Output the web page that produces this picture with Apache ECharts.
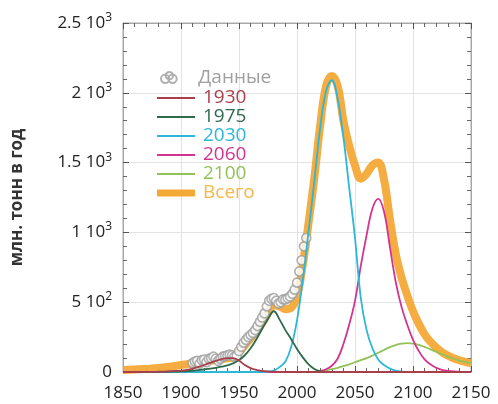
<!DOCTYPE html>
<html>
<head>
<meta charset="utf-8">
<script src="https://cdn.jsdelivr.net/npm/echarts@6/dist/echarts.min.js"></script>
<style>
    html, body { margin: 0; padding: 0; background: #fff; }
    #chart { width: 498px; height: 404px; }
</style>
</head>
<body>
<div id="chart"></div>
<script>
    // годы для кривых (шаг 5 лет)
    const years = [1850,1855,1860,1865,1870,1875,1880,1885,1890,1895,
        1900,1905,1910,1915,1920,1925,1930,1935,1940,1945,
        1950,1955,1960,1965,1970,1975,1980,1985,1990,1995,
        2000,2005,2010,2015,2020,2025,2030,2035,2040,2045,
        2050,2055,2060,2065,2070,2075,2080,2085,2090,2095,
        2100,2105,2110,2115,2120,2125,2130,2135,2140,2145,2150];

    const curve1930 = [0,0,0,0,1,1,2,3,5,7,
        10,16,25,37,50,65,80,92,100,100,
        82,50,28,15,8,4,2,1,0,0,
        0,0,0,0,0,0,0,0,0,0,
        0,0,0,0,0,0,0,0,0,0,
        0,0,0,0,0,0,0,0,0,0,0];

    const curve1975 = [0,0,0,0,0,0,1,1,2,3,
        4,6,9,13,18,24,30,38,48,62,
        85,120,170,235,310,380,435,375,300,235,
        165,105,55,22,6,1,0,0,0,0,
        0,0,0,0,0,0,0,0,0,0,
        0,0,0,0,0,0,0,0,0,0,0];

    const curve2030 = [0,0,0,0,0,0,0,0,0,0,
        0,0,0,0,0,0,0,0,0,0,
        0,0,0,0,0,3,10,35,75,180,
        370,660,1010,1370,1750,2010,2090,1960,1680,1320,
        960,530,300,170,90,50,25,10,3,0,
        0,0,0,0,0,0,0,0,0,0,0];

    const curve2060 = [0,0,0,0,0,0,0,0,0,0,
        0,0,0,0,0,0,0,0,0,0,
        0,0,0,0,0,0,0,0,0,0,
        0,0,0,0,8,20,45,95,200,340,
        510,760,980,1170,1240,1150,900,650,470,340,
        230,150,90,55,30,15,8,4,2,0,0];

    const curve2100 = [0,0,0,0,0,0,0,0,0,0,
        0,0,0,0,0,0,0,0,0,0,
        0,0,0,0,0,0,0,0,0,0,
        0,0,0,2,6,12,20,30,42,55,
        70,85,100,118,138,158,178,193,203,207,
        204,195,180,162,145,127,110,95,82,72,63];

    const curveTotal = [15,16,18,20,22,25,28,32,37,43,
        50,56,62,68,74,80,86,92,98,105,
        140,190,240,290,350,420,480,470,450,460,
        540,770,1070,1395,1765,2045,2120,2050,1800,1620,
        1480,1385,1420,1480,1500,1380,1100,850,680,550,
        435,345,270,217,175,142,118,99,84,72,63];

    // исторические данные (кружки)
    const dataYears = [1910,1912,1914,1916,1918,1920,1922,1924,1926,1928,
        1930,1932,1934,1936,1938,1940,1942,1944,1946,1948,
        1950,1952,1954,1956,1958,1960,1962,1964,1966,1968,
        1970,1972,1974,1976,1978,1980,1982,1984,1986,1988,
        1990,1992,1994,1996,1998,2000,2002,2004,2006,2008];
    const dataValues = [65,75,80,60,85,90,70,95,100,110,
        95,80,95,110,115,120,125,120,110,115,
        150,180,210,230,250,265,280,300,330,360,
        390,420,470,510,525,530,510,490,500,520,
        520,530,540,560,590,640,720,800,900,960];

    const xTicks = [1850, 1900, 1950, 2000, 2050, 2100, 2150];
    const yTicks = [0, 500, 1000, 1500, 2000, 2500];
    const yTickLabels = ['0', '{m|5 10}{s|2}', '{m|1 10}{s|3}', '{m|1.5 10}{s|3}', '{m|2 10}{s|3}', '{m|2.5 10}{s|3}'];

    const pairs = (xs, ys) => xs.map((x, i) => [x, ys[i]]);

    const FONT = '"Open Sans", "Noto Sans", sans-serif';
    const colors = {
        data: '#9c9c9c',
        c1930: '#a8404c',
        c1975: '#2f6a4b',
        c2030: '#2cb6d8',
        c2060: '#d2358f',
        c2100: '#92c257',
        total: '#f4a836'
    };

    let myChart = echarts.init(document.getElementById('chart'));

    const tickStyle = () => ({
        axisLine: { show: true, onZero: false, lineStyle: { color: '#a8a8a8', width: 1 } },
        axisTick: { show: true, inside: true, length: 6, lineStyle: { color: '#555', width: 1 } },
        minorTick: { show: true, splitNumber: 5, length: 4, lineStyle: { color: '#666', width: 1 } }
    });

    let lineItem = (name, color) => ({
        name: name,
        icon: 'path://M0,0H38V2H0Z',
        textStyle: { color: color }
    });

    let lineSeries = (name, color, values) => ({
        name: name,
        type: 'line',
        z: 4,
        smooth: 0.4,
        symbol: 'none',
        color: color,
        lineStyle: { width: 1.8, color: color },
        data: pairs(years, values)
    });

    let option = {
        animation: false,
        textStyle: { fontFamily: FONT },
        grid: { left: 123, right: 27, top: 23, bottom: 32, show: true, borderColor: '#a8a8a8', borderWidth: 1 },
        legend: [
            {
                orient: 'vertical',
                left: 155,
                top: 63,
                itemWidth: 19,
                itemHeight: 11,
                textStyle: { fontSize: 19, lineHeight: 19, fontFamily: FONT, padding: [0, 0, 0, 15] },
                data: [{
                    name: 'Данные',
                    icon: 'path://M5,7m-4,0a4,4 0 1,0 8,0a4,4 0 1,0 -8,0M12,7m-4,0a4,4 0 1,0 8,0a4,4 0 1,0 -8,0M9,4m-3.5,0a3.5,3.5 0 1,0 7,0a3.5,3.5 0 1,0 -7,0',
                    textStyle: { color: '#a0a0a0' }
                }]
            },
            {
                orient: 'vertical',
                left: 152,
                top: 83.5,
                itemWidth: 38,
                itemHeight: 14,
                itemGap: 0,
                textStyle: { fontSize: 19, lineHeight: 18.8, fontFamily: FONT, padding: [0, 0, 0, 3] },
                data: [
                    lineItem('1930', colors.c1930),
                    lineItem('1975', colors.c1975),
                    lineItem('2030', colors.c2030),
                    lineItem('2060', colors.c2060),
                    lineItem('2100', colors.c2100),
                    { name: 'Всего', icon: 'path://M0,0H38V7H0Z', textStyle: { color: '#f2b84b' } }
                ]
            }
        ],
        xAxis: [
            Object.assign({
                type: 'value',
                min: 1850,
                max: 2150,
                interval: 50,
                axisLabel: {
                    color: '#222',
                    fontSize: 17,
                    margin: 13,
                    formatter: v => xTicks.indexOf(v) >= 0 ? String(v) : ''
                },
                splitLine: { show: true, lineStyle: { color: '#e3e3e3' } }
            }, tickStyle()),
            Object.assign({
                type: 'value',
                position: 'top',
                min: 1850,
                max: 2150,
                interval: 50,
                axisLabel: { show: false },
                splitLine: { show: false }
            }, tickStyle())
        ],
        yAxis: [
            Object.assign({
                type: 'value',
                min: 0,
                max: 2500,
                interval: 500,
                name: 'млн. тонн в год',
                nameLocation: 'middle',
                nameGap: 97,
                nameTextStyle: { fontSize: 17, fontWeight: 'bold', color: '#333', fontFamily: FONT },
                axisLabel: {
                    color: '#222',
                    fontSize: 17,
                    margin: 11,
                    formatter: v => yTickLabels[yTicks.indexOf(v)] || '',
                    rich: {
                        m: { fontSize: 17, color: '#222', fontFamily: FONT },
                        s: { fontSize: 12, color: '#222', fontFamily: FONT, padding: [0, 0, 11, 0] }
                    }
                },
                splitLine: { show: true, lineStyle: { color: '#e3e3e3' } }
            }, tickStyle()),
            Object.assign({
                type: 'value',
                position: 'right',
                min: 0,
                max: 2500,
                interval: 500,
                axisLabel: { show: false },
                splitLine: { show: false }
            }, tickStyle())
        ],
        series: [
            {
                name: 'Всего',
                type: 'line',
                z: 1,
                smooth: 0.4,
                symbol: 'none',
                color: colors.total,
                lineStyle: { width: 8, color: colors.total, opacity: 0.95 },
                data: pairs(years, curveTotal)
            },
            {
                name: 'Данные',
                type: 'scatter',
                z: 3,
                symbol: 'circle',
                symbolSize: 9,
                color: colors.data,
                itemStyle: { color: '#fff', borderColor: colors.data, borderWidth: 1.6 },
                data: pairs(dataYears, dataValues)
            },
            lineSeries('2100', colors.c2100, curve2100),
            lineSeries('2060', colors.c2060, curve2060),
            lineSeries('2030', colors.c2030, curve2030),
            lineSeries('1975', colors.c1975, curve1975),
            lineSeries('1930', colors.c1930, curve1930)
        ]
    };

    myChart.setOption(option);
</script>
</body>
</html>
